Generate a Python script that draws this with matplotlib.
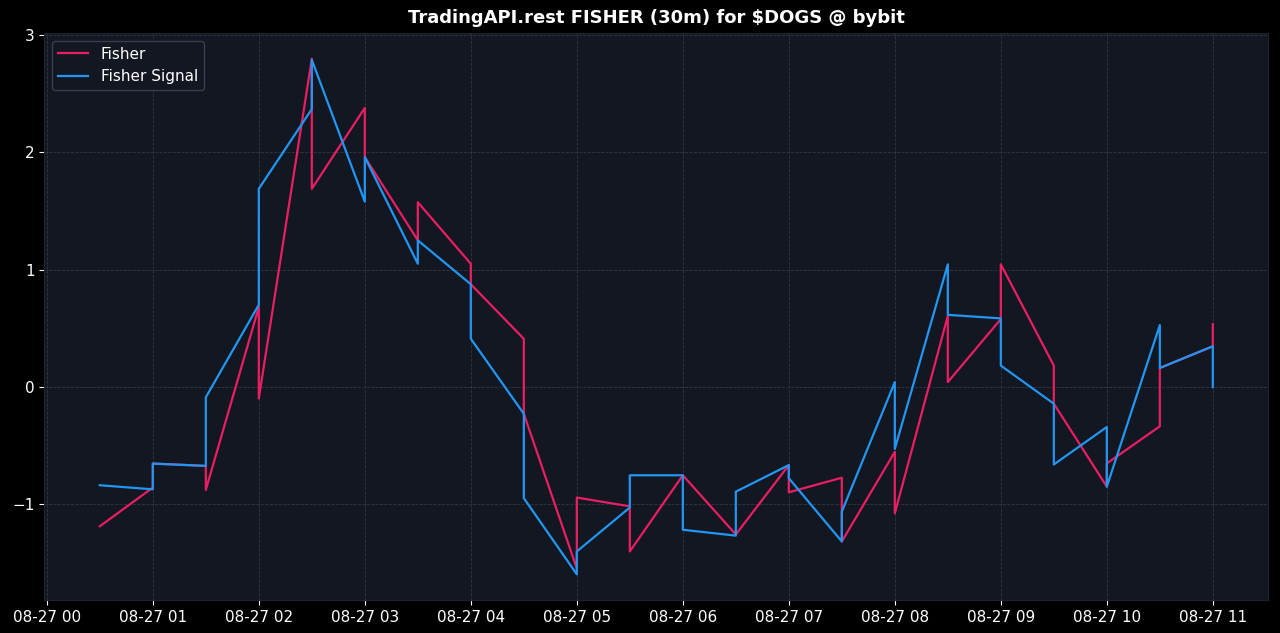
import matplotlib
matplotlib.use("Agg")
import matplotlib.pyplot as plt
import matplotlib.dates as mdates
import pandas as pd

# Timestamps (30m bars; most appear twice in the source data)
times = ["00:30",
         "01:00", "01:00", "01:30", "01:30", "02:00", "02:00", "02:30", "02:30",
         "03:00", "03:00", "03:30", "03:30", "04:00", "04:00", "04:30", "04:30",
         "05:00", "05:00", "05:30", "05:30", "06:00", "06:00", "06:30", "06:30",
         "07:00", "07:00", "07:30", "07:30", "08:00", "08:00", "08:30", "08:30",
         "09:00", "09:00", "09:30", "09:30", "10:00", "10:00", "10:30", "10:30",
         "11:00", "11:00"]

fisher = [-1.19,
          -0.86, -0.655, -0.675, -0.88, 0.68, -0.10, 2.80, 1.69,
          2.38, 1.96, 1.25, 1.575, 1.05, 0.875, 0.41, -0.23,
          -1.55, -0.945, -1.02, -1.405, -0.755, -0.755, -1.26, -1.26,
          -0.668, -0.90, -0.776, -1.32, -0.555, -1.08, 0.606, 0.04,
          0.578, 1.045, 0.181, -0.144, -0.852, -0.654, -0.337, 0.16,
          0.346, 0.535]

fisher_signal = [-0.84,
                 -0.875, -0.655, -0.675, -0.09, 0.70, 1.69, 2.37, 2.79,
                 1.58, 1.96, 1.05, 1.25, 0.875, 0.41, -0.23, -0.95,
                 -1.60, -1.405, -1.03, -0.755, -0.755, -1.22, -1.27, -0.895,
                 -0.668, -0.78, -1.32, -1.065, 0.04, -0.53, 1.045, 0.614,
                 0.584, 0.181, -0.144, -0.663, -0.343, -0.852, 0.527, 0.161,
                 0.346, -0.003]

dates = pd.to_datetime(["2024-08-27 " + t for t in times])

FIG_BG = "#000000"
AX_BG = "#131722"
PINK = "#E91E63"
BLUE = "#2196F3"

fig = plt.figure(figsize=(12.8, 6.33), dpi=100, facecolor=FIG_BG)
ax = fig.add_axes([0.0345, 0.052, 0.9565, 0.896])
ax.set_facecolor(AX_BG)

ax.plot(dates, fisher, color=PINK, linewidth=1.6, label="Fisher")
ax.plot(dates, fisher_signal, color=BLUE, linewidth=1.6, label="Fisher Signal")

ax.set_title("TradingAPI.rest FISHER (30m) for $DOGS @ bybit",
             color="white", fontsize=13, fontweight="bold", pad=7)

ax.xaxis.set_major_locator(mdates.HourLocator(interval=1))
ax.xaxis.set_major_formatter(mdates.DateFormatter("%m-%d %H"))
ax.set_yticks([-1, 0, 1, 2, 3])

ax.tick_params(colors="white", labelsize=11)
for s in ax.spines.values():
    s.set_color("#1e222d")

ax.grid(True, color="#3a3f4b", linestyle="--", linewidth=0.6, alpha=0.8)

leg = ax.legend(loc="upper left", facecolor=AX_BG, edgecolor="#3a3f4b",
                fontsize=11, framealpha=1.0)
for t in leg.get_texts():
    t.set_color("white")

fig.savefig("out.png", dpi=100, facecolor=FIG_BG)
